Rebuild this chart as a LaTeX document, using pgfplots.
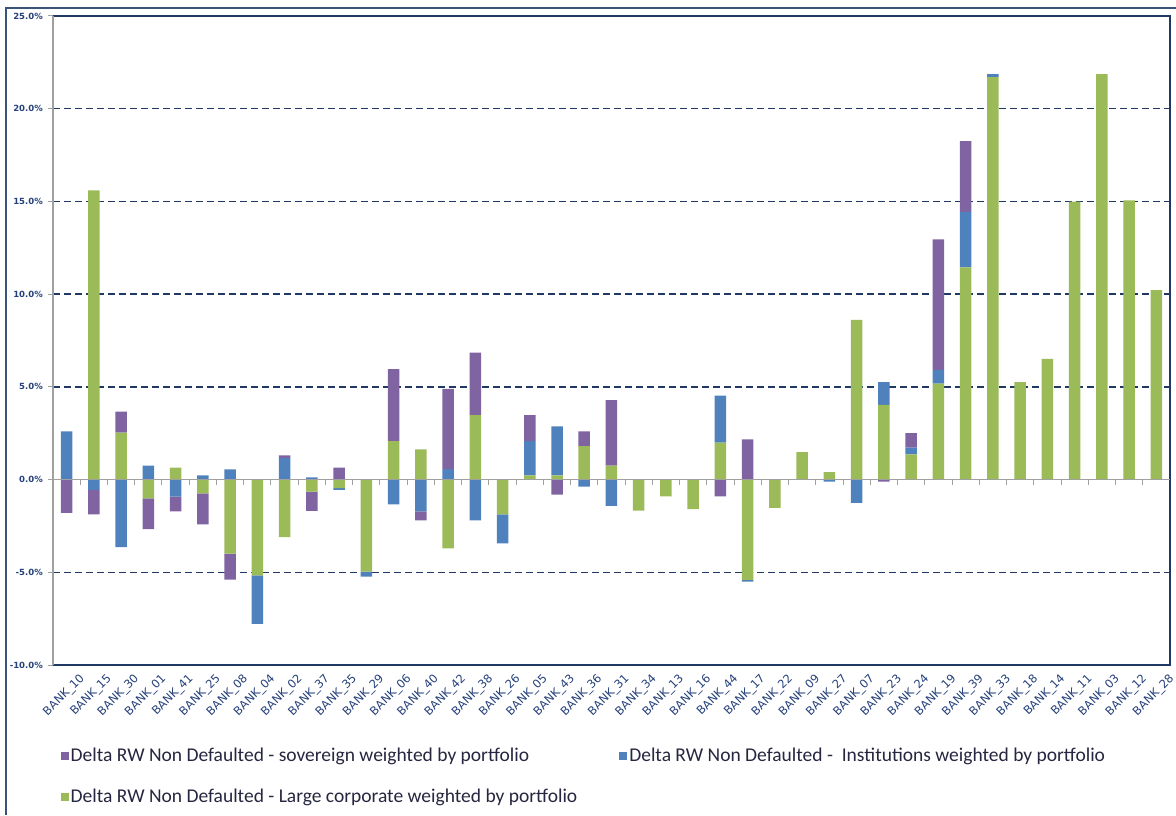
\documentclass[border=0pt]{standalone}
\usepackage{fontspec}
\setmainfont{Carlito}
\newfontfamily\tickfont{DejaVu Sans}
\usepackage{pgfplots}
\usepackage{pgfplotstable}
\pgfplotsset{compat=1.18}
\definecolor{purp}{HTML}{8064A2}
\definecolor{blu}{HTML}{4F81BD}
\definecolor{grn}{HTML}{9BBB59}
\definecolor{navy}{HTML}{1F3864}
\definecolor{lblnavy}{HTML}{25407A}
\definecolor{frm}{HTML}{3A5378}
\definecolor{axgray}{HTML}{A0A0A0}
\definecolor{legtxt}{HTML}{262640}

% positive parts (x, green, blue, purple), values in %
\pgfplotstableread{
x g b p
0 0 2.6 0
1 15.6 0 0
2 2.53 0 1.13
3 0 0.75 0
4 0.65 0 0
5 0 0.22 0
6 0 0.55 0
7 0 0 0
8 0 1.16 0.14
9 0 0.12 0
10 0 0 0.65
11 0 0 0
12 2.08 0 3.87
13 1.63 0 0
14 0 0.57 4.32
15 3.48 0 3.37
16 0 0 0
17 0.23 1.85 1.4
18 0.23 2.64 0
19 1.81 0 0.79
20 0.75 0 3.53
21 0 0 0
22 0 0 0
23 0 0 0
24 1.99 2.54 0
25 0 0 2.17
26 0 0 0
27 1.48 0 0
28 0.4 0 0
29 8.61 0 0
30 4.03 1.23 0
31 1.36 0.36 0.78
32 5.17 0.74 7.05
33 11.45 2.98 3.82
34 21.7 0.16 0
35 5.26 0 0
36 6.51 0 0
37 14.99 0 0
38 21.86 0 0
39 15.06 0 0
40 10.22 0 0
}\pos

% negative parts (x, green, blue, purple)
\pgfplotstableread{
x g b p
0 0 0 -1.8
1 0 -0.55 -1.33
2 0 -3.64 0
3 -1.01 0 -1.66
4 0 -0.92 -0.79
5 -0.75 0 -1.66
6 -4.0 0 -1.4
7 -5.16 -2.62 0
8 -3.11 0 0
9 -0.65 0 -1.04
10 -0.46 -0.09 0
11 -4.96 -0.27 0
12 0 -1.34 0
13 0 -1.72 -0.48
14 -3.71 0 0
15 0 -2.2 0
16 -1.88 -1.56 0
17 0 0 0
18 0 0 -0.81
19 0 -0.38 0
20 0 -1.42 0
21 -1.68 0 0
22 -0.9 0 0
23 -1.6 0 0
24 0 0 -0.9
25 -5.41 -0.09 0
26 -1.52 0 0
27 0 0 0
28 0 -0.11 0
29 0 -1.25 0
30 0 0 -0.11
31 0 0 0
32 0 0 0
33 0 0 0
34 0 0 0
35 0 0 0
36 0 0 0
37 0 0 0
38 0 0 0
39 0 0 0
40 0 0 0
}\neg

\pgfplotsset{
  base/.style={
    at={(53pt,150pt)}, anchor=south west, scale only axis,
    width=1117pt, height=649pt,
    xmin=-0.5, xmax=40.5, ymin=-10, ymax=25,
    ybar stacked, bar width=11.5pt,
  }
}

\begin{document}
\begin{tikzpicture}
\path[use as bounding box] (0pt,0pt) rectangle (1176pt,815pt);
\draw[frm, line width=2pt] (6pt,0pt) -- (6pt,807pt) -- (1176pt,807pt);

\begin{axis}[base,
  axis line style={navy, line width=1.3pt},
  major tick length=0pt,
  xtick={0,...,40},
  xticklabels={BANK\_10,BANK\_15,BANK\_30,BANK\_01,BANK\_41,BANK\_25,BANK\_08,BANK\_04,BANK\_02,BANK\_37,BANK\_35,BANK\_29,BANK\_06,BANK\_40,BANK\_42,BANK\_38,BANK\_26,BANK\_05,BANK\_43,BANK\_36,BANK\_31,BANK\_34,BANK\_13,BANK\_16,BANK\_44,BANK\_17,BANK\_22,BANK\_09,BANK\_27,BANK\_07,BANK\_23,BANK\_24,BANK\_19,BANK\_39,BANK\_33,BANK\_18,BANK\_14,BANK\_11,BANK\_03,BANK\_12,BANK\_28},
  xticklabel style={rotate=45, anchor=north east, font=\tickfont\fontsize{11.5}{13}\selectfont, text=lblnavy, inner sep=1pt, xshift=4pt, yshift=-13pt},
  ytick={-10,-5,...,25},
  yticklabels={-10.0\%,-5.0\%,0.0\%,5.0\%,10.0\%,15.0\%,20.0\%,25.0\%},
  yticklabel style={font=\tickfont\fontsize{8.5}{10}\selectfont\bfseries, text=lblnavy, inner sep=1pt, xshift=-9pt},
  ymajorgrids,
  major grid style={navy, line width=1.3pt, dash pattern=on 7pt off 4pt},
  legend columns=2,
  legend cell align=left,
  legend image code/.code={\fill[#1] (0pt,-4pt) rectangle (8pt,4pt);},
  legend style={at={(axis description cs:0.004,-0.122)}, anchor=north west,
     draw=none, fill=none, font=\fontsize{19.5}{23}\selectfont, text=legtxt,
     /tikz/every even column/.append style={column sep=40pt},
     row sep=22pt},
]
\addplot[fill=grn, draw=none, forget plot] table[x=x,y=g]{\pos};
\addplot[fill=blu, draw=none, forget plot] table[x=x,y=b]{\pos};
\addplot[fill=purp, draw=none, forget plot] table[x=x,y=p]{\pos};
\addlegendimage{fill=purp, draw=none}
\addlegendentry{Delta RW Non Defaulted - sovereign weighted by portfolio}
\addlegendimage{fill=blu, draw=none}
\addlegendentry{Delta RW Non Defaulted - \ Institutions weighted by portfolio}
\addlegendimage{fill=grn, draw=none}
\addlegendentry{Delta RW Non Defaulted - Large corporate weighted by portfolio}
\end{axis}

\begin{axis}[base,
  axis x line=middle, axis y line=left,
  axis line style={axgray, line width=1.2pt, -},
  xtick={0.5,1.5,...,39.5}, xticklabels={},
  ytick={-10,-5,...,25}, yticklabels={},
  tick style={axgray, line width=1pt},
  tick align=outside, major tick length=5pt,
  axis on top,
]
\addplot[fill=grn, draw=none] table[x=x,y=g]{\neg};
\addplot[fill=blu, draw=none] table[x=x,y=b]{\neg};
\addplot[fill=purp, draw=none] table[x=x,y=p]{\neg};
\end{axis}
\end{tikzpicture}
\end{document}
